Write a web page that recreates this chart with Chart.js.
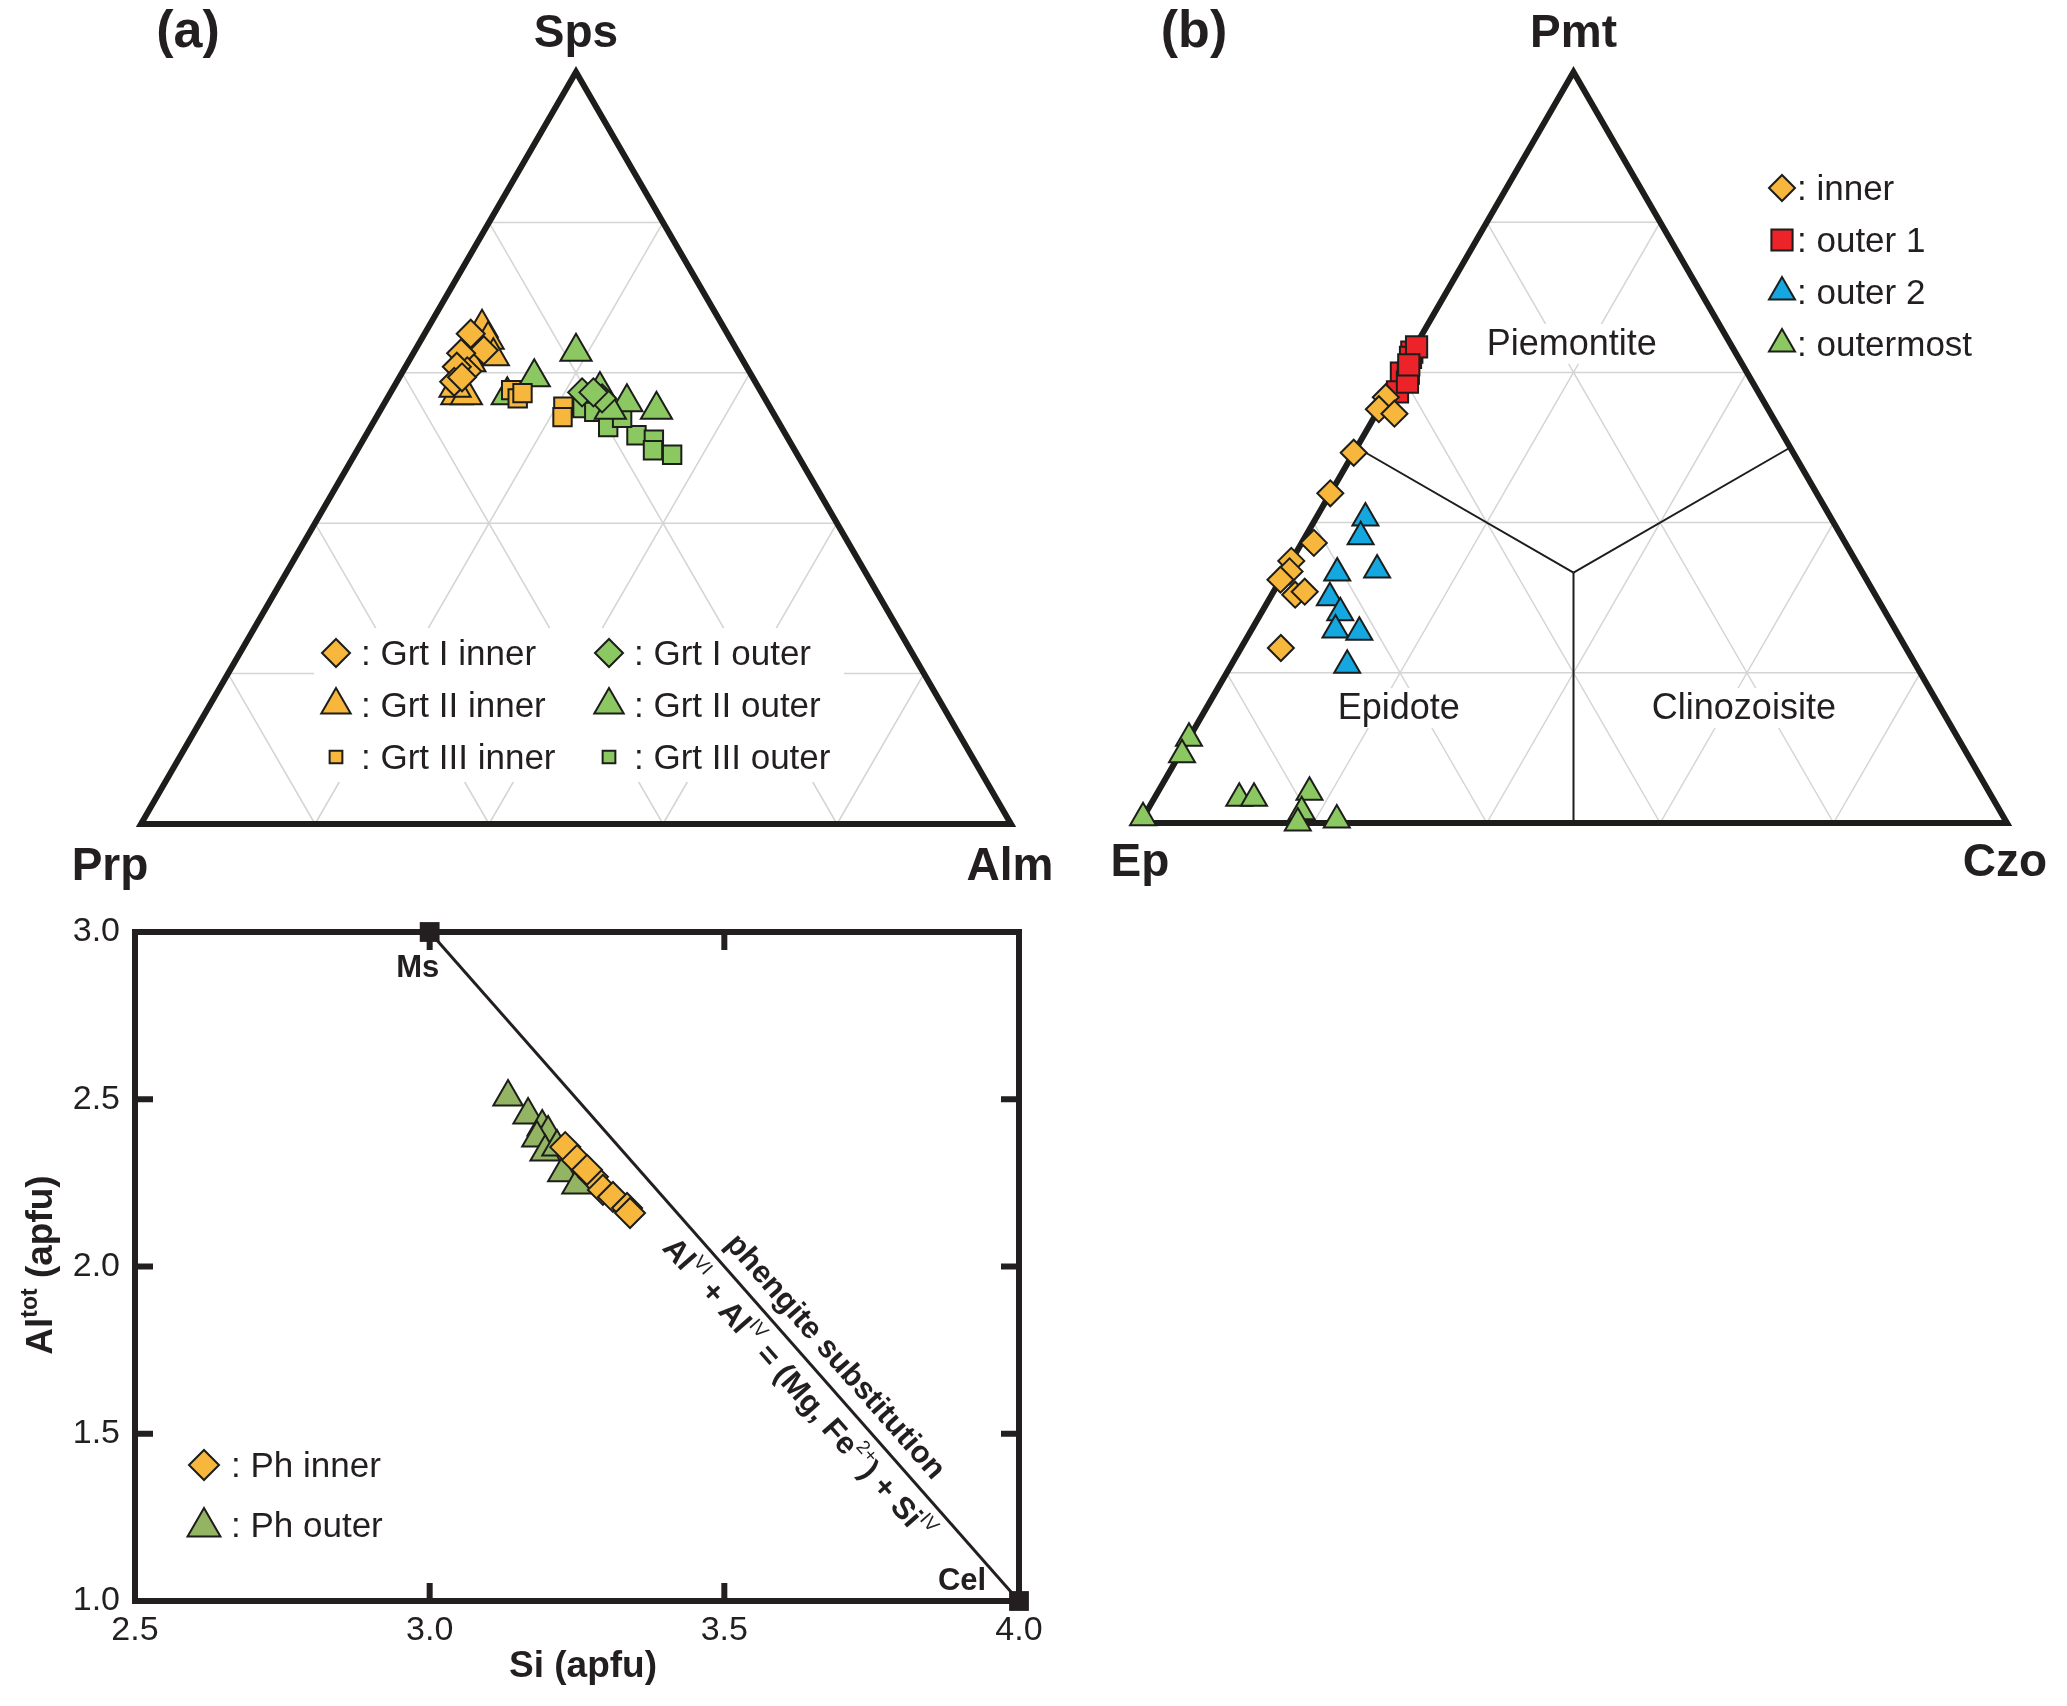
<!DOCTYPE html>
<html>
<head>
<meta charset="utf-8">
<script src="https://cdn.jsdelivr.net/npm/chart.js@4.4.1/dist/chart.umd.min.js"></script>
<style>
  html, body { margin: 0; padding: 0; background: #fff; }
  body { width: 2067px; height: 1706px; position: relative; overflow: hidden; }
  canvas { position: absolute; }
  #chart-a { left: 0; top: 0; width: 1060px; height: 900px; }
  #chart-b { left: 1060px; top: 0; width: 1007px; height: 900px; }
  #chart-c { left: 0; top: 880px; width: 1060px; height: 826px; }
</style>
</head>
<body>
<canvas id="chart-a" width="1060" height="900"></canvas>
<canvas id="chart-b" width="1007" height="900"></canvas>
<canvas id="chart-c" width="1060" height="826"></canvas>
<script>
// (a) garnet compositions, [Prp, Alm, Sps] mol%
const grtIInner = [[29.5, 5.3, 65.2], [29.1, 7.9, 63.0], [31.9, 5.5, 62.6], [32.4, 7.4, 60.2], [33.3, 5.9, 60.8], [34.6, 6.6, 58.8], [33.4, 7.2, 59.4]];
const grtIIInner = [[27.8, 6.2, 66.0], [27.9, 7.7, 64.4], [28.4, 9.4, 62.2], [31.5, 7.1, 61.4], [35.2, 7.8, 57.0], [34.1, 8.9, 57.0], [34.9, 7.1, 58.0]];
const grtIIIInner = [[28.6, 13.7, 57.7], [28.4, 15.0, 56.6], [27.5, 15.2, 57.3], [23.7, 20.8, 55.5], [24.5, 21.4, 54.1]];
const grtIOuter = [[20.6, 22.0, 57.4], [18.7, 24.7, 56.6], [19.3, 23.3, 57.4]];
const grtIIOuter = [[18.6, 18.6, 62.8], [25.1, 15.5, 59.4], [29.4, 13.6, 57.0], [18.4, 23.9, 57.7], [16.1, 27.8, 56.1], [13.2, 31.7, 55.1], [18.5, 26.4, 55.1]];
const grtIIIOuter = [[21.6, 23.1, 55.3], [20.5, 24.7, 54.8], [19.9, 27.3, 52.8], [17.2, 31.1, 51.7], [15.5, 33.4, 51.1], [16.3, 34.0, 49.7], [14.4, 36.5, 49.1], [17.7, 28.3, 54.0]];
const garnetLabels = ["Grt I inner", "Grt II inner", "Grt III inner", "Grt I outer", "Grt II outer", "Grt III outer"];
const garnetApices = ["Prp", "Alm", "Sps"];

// (b) epidote compositions, [Ep, Czo, Pmt] mol%
const epInner = [[43.3, 0, 56.7], [44.9, 0, 55.1], [43.4, 2.1, 54.5], [50.7, 0, 49.3], [56.1, 0, 43.9], [61.3, 1.4, 37.3], [65.1, 0, 34.9], [66.0, 0.5, 33.5], [67.6, 0, 32.4], [66.9, 2.7, 30.4], [65.6, 3.6, 30.8], [72.1, 4.6, 23.3]];
const epOuter1 = [[37.3, 0, 62.7], [37.8, 0.2, 62.0], [39.9, 0.2, 59.9], [39.1, 1.0, 59.9], [41.6, 1.0, 57.4], [39.8, 1.5, 58.7], [36.4, 0.2, 63.4], [38.5, 0.5, 61.0]];
const epOuter2 = [[53.7, 5.7, 40.6], [55.5, 6.4, 38.1], [60.6, 6.1, 33.3], [55.8, 10.5, 33.7], [63.1, 6.9, 30.0], [62.9, 9.1, 28.0], [64.6, 9.7, 25.7], [62.0, 12.6, 25.4], [65.6, 13.4, 21.0]];
const epOutermost = [[99.3, 0, 0.7], [88.7, 0, 11.3], [90.6, 0.3, 9.1], [86.9, 9.8, 3.3], [85.2, 11.5, 3.3], [78.4, 17.5, 4.1], [80.6, 17.9, 1.5], [81.8, 18.2, 0], [77.1, 22.5, 0.4]];
const epidoteLabels = ["inner", "outer 1", "outer 2", "outermost"];
const epidoteApices = ["Ep", "Czo", "Pmt"];
const epidoteFields = ["Piemontite", "Epidote", "Clinozoisite"];

// (c) white mica, Si vs Al(tot) in apfu
const siTicks = [2.5, 3.0, 3.5, 4.0];
const alTicks = [1.0, 1.5, 2.0, 2.5, 3.0];
const phInnerSi = [3.23, 3.25, 3.277, 3.294, 3.311, 3.335, 3.34, 3.267];
const phInnerAl = [2.357, 2.318, 2.268, 2.229, 2.208, 2.175, 2.16, 2.289];
const phOuterSi = [3.133, 3.167, 3.191, 3.201, 3.182, 3.196, 3.226, 3.25, 3.216];
const phOuterAl = [2.507, 2.453, 2.417, 2.399, 2.384, 2.342, 2.28, 2.244, 2.357];
const endMembers = ["Ms", "Cel"];
const endSi = [3.0, 4.0];
const endAl = [3.0, 1.0];
const micaLabels = ["Ph inner", "Ph outer"];

const FONT = "'Liberation Sans', Arial, Helvetica, sans-serif";
const INK = "#231f20";
const EDGE = "#1d1d1b";
const ORANGE = "#f6b73c";
const GREEN = "#8cc862";
const OLIVE = "#93b462";
const BLUE = "#14a7e0";
const RED = "#ec2328";
const GRID = "#d4d4d4";
const SQ3 = Math.sqrt(3) / 2;

function ternaryPoint(t) {
  const s = t[0] + t[1] + t[2];
  const right = t[1] / s;
  const top = t[2] / s;
  return { x: right + top / 2, y: top * SQ3 };
}

function gridLines() {
  const lines = [];
  [0.2, 0.4, 0.6, 0.8].forEach((k) => {
    lines.push([{ x: k / 2, y: k * SQ3 }, { x: 1 - k / 2, y: k * SQ3 }]);
    lines.push([{ x: k, y: 0 }, { x: k + (1 - k) / 2, y: (1 - k) * SQ3 }]);
    lines.push([{ x: 1 - k, y: 0 }, { x: (1 - k) / 2, y: (1 - k) * SQ3 }]);
  });
  return lines;
}

const frame = [{ x: 0, y: 0 }, { x: 1, y: 0 }, { x: 0.5, y: SQ3 }, { x: 0, y: 0 }, { x: 1, y: 0 }];

const lineSet = (data, color, width, order) => ({
  data, showLine: true, pointRadius: 0, borderColor: color, borderWidth: width,
  borderJoinStyle: "miter", order, clip: false,
});
const pointSet = (label, data, style, radius, fill, order) => ({
  label, data, pointStyle: style, pointRadius: radius, backgroundColor: fill,
  borderColor: EDGE, borderWidth: 2, order, clip: false,
});

function text(ctx, str, x, y, size, bold, align = "center", baseline = "alphabetic") {
  ctx.font = `${bold ? "bold " : ""}${size}px ${FONT}`;
  ctx.fillStyle = INK;
  ctx.textAlign = align;
  ctx.textBaseline = baseline;
  ctx.fillText(str, x, y);
}

// parts: [string, size, bold, rise]
function drawRich(ctx, parts, x, y) {
  ctx.fillStyle = INK;
  ctx.textAlign = "left";
  ctx.textBaseline = "middle";
  let w = 0;
  parts.forEach((p) => {
    ctx.font = `${p[2] ? "bold " : ""}${p[1]}px ${FONT}`;
    w += ctx.measureText(p[0]).width;
  });
  let cx = x - w / 2;
  parts.forEach((p) => {
    ctx.font = `${p[2] ? "bold " : ""}${p[1]}px ${FONT}`;
    ctx.fillText(p[0], cx, y - (p[3] || 0));
    cx += ctx.measureText(p[0]).width;
  });
}

function marker(ctx, style, radius, fill, x, y) {
  ctx.save();
  ctx.fillStyle = fill;
  ctx.strokeStyle = EDGE;
  ctx.lineWidth = 2;
  Chart.helpers.drawPoint(ctx, { pointStyle: style, radius, borderWidth: 2, rotation: 0 }, x, y);
  ctx.restore();
}

const ternaryOptions = (padding) => ({
  responsive: false,
  animation: false,
  layout: { padding },
  scales: {
    x: { type: "linear", min: 0, max: 1, display: false },
    y: { type: "linear", min: 0, max: SQ3, display: false },
  },
  plugins: { legend: { display: false }, tooltip: { enabled: false } },
});

// ---------- (a) garnet ----------
const garnetPlugin = {
  id: "garnetDecor",
  afterDatasetsDraw(chart) {
    const { ctx, scales: { x, y } } = chart;
    ctx.save();
    ctx.fillStyle = "#fff";
    ctx.fillRect(314, 628, 530, 154);
    const styles = [["rectRot", 14, ORANGE], ["triangle", 17, ORANGE], ["rect", 9, ORANGE],
      ["rectRot", 14, GREEN], ["triangle", 17, GREEN], ["rect", 9, GREEN]];
    garnetLabels.forEach((lab, i) => {
      const col = Math.floor(i / 3);
      const row = i % 3;
      const mx = col === 0 ? 336 : 609;
      const my = 653 + row * 52;
      marker(ctx, styles[i][0], styles[i][1], styles[i][2], mx, my);
      text(ctx, ": " + lab, mx + 25, my + 2, 35, false, "left", "middle");
    });
    const px = (v) => x.getPixelForValue(v);
    const py = (v) => y.getPixelForValue(v);
    text(ctx, garnetApices[2], px(0.5), 47, 46, true);
    text(ctx, garnetApices[0], px(0) - 31, py(0) + 56, 46, true);
    text(ctx, garnetApices[1], px(1) - 1, py(0) + 56, 46, true);
    text(ctx, "(a)", 188, 47, 52, true);
    ctx.restore();
  },
};

new Chart(document.getElementById("chart-a"), {
  type: "scatter",
  data: {
    datasets: [
      ...gridLines().map((l) => lineSet(l, GRID, 1.5, 30)),
      lineSet(frame, EDGE, 6, 20),
      pointSet(garnetLabels[5], grtIIIOuter.map(ternaryPoint), "rect", 13, GREEN, 8),
      pointSet(garnetLabels[4], grtIIOuter.map(ternaryPoint), "triangle", 18, GREEN, 7),
      pointSet(garnetLabels[3], grtIOuter.map(ternaryPoint), "rectRot", 14, GREEN, 6),
      pointSet(garnetLabels[2], grtIIIInner.map(ternaryPoint), "rect", 13, ORANGE, 5),
      pointSet(garnetLabels[1], grtIIInner.map(ternaryPoint), "triangle", 18, ORANGE, 4),
      pointSet(garnetLabels[0], grtIInner.map(ternaryPoint), "rectRot", 14, ORANGE, 3),
    ],
  },
  options: ternaryOptions({ left: 141, right: 49, top: 72, bottom: 76 }),
  plugins: [garnetPlugin],
});

// ---------- (b) epidote ----------
const epidotePlugin = {
  id: "epidoteDecor",
  afterDatasetsDraw(chart) {
    const { ctx, scales: { x, y } } = chart;
    const px = (v) => x.getPixelForValue(v);
    const py = (v) => y.getPixelForValue(v);
    ctx.save();
    const anchors = [[18.3, 17.9, 63.8], [62.5, 22.2, 15.3], [22.7, 62.0, 15.3]];
    epidoteFields.forEach((f, i) => {
      const p = ternaryPoint(anchors[i]);
      ctx.font = `36px ${FONT}`;
      const w = ctx.measureText(f).width;
      ctx.fillStyle = "#fff";
      ctx.fillRect(px(p.x) - w / 2 - 4, py(p.y) - 20, w + 8, 40);
      text(ctx, f, px(p.x), py(p.y) + 1, 36, false, "center", "middle");
    });
    const styles = [["rectRot", 13, ORANGE], ["rect", 15, RED], ["triangle", 15, BLUE], ["triangle", 15, GREEN]];
    epidoteLabels.forEach((lab, i) => {
      const my = 188 + i * 52;
      marker(ctx, styles[i][0], styles[i][1], styles[i][2], 722, my);
      text(ctx, ": " + lab, 737, my + 2, 35, false, "left", "middle");
    });
    text(ctx, epidoteApices[2], px(0.5), 47, 46, true);
    text(ctx, epidoteApices[0], px(0), py(0) + 53, 46, true);
    text(ctx, epidoteApices[1], px(1) - 2, py(0) + 53, 46, true);
    text(ctx, "(b)", 134, 47, 52, true);
    ctx.restore();
  },
};

const centroid = ternaryPoint([1, 1, 1]);
new Chart(document.getElementById("chart-b"), {
  type: "scatter",
  data: {
    datasets: [
      ...gridLines().map((l) => lineSet(l, GRID, 1.5, 30)),
      lineSet([centroid, ternaryPoint([50, 0, 50])], EDGE, 2, 25),
      lineSet([centroid, ternaryPoint([0, 50, 50])], EDGE, 2, 25),
      lineSet([centroid, ternaryPoint([50, 50, 0])], EDGE, 2, 25),
      lineSet(frame, EDGE, 6, 20),
      pointSet(epidoteLabels[3], epOutermost.map(ternaryPoint), "triangle", 15, GREEN, 6),
      pointSet(epidoteLabels[2], epOuter2.map(ternaryPoint), "triangle", 15, BLUE, 5),
      pointSet(epidoteLabels[1], epOuter1.map(ternaryPoint), "rect", 15, RED, 4),
      pointSet(epidoteLabels[0], epInner.map(ternaryPoint), "rectRot", 13, ORANGE, 3),
    ],
  },
  options: ternaryOptions({ left: 80, right: 60, top: 72, bottom: 77 }),
  plugins: [epidotePlugin],
});

// ---------- (c) white mica ----------
const micaPlugin = {
  id: "micaDecor",
  beforeDatasetsDraw(chart) {
    const { ctx, chartArea: a, scales: { x, y } } = chart;
    ctx.save();
    ctx.strokeStyle = INK;
    ctx.lineWidth = 6;
    ctx.strokeRect(a.left, a.top, a.right - a.left, a.bottom - a.top);
    const tick = 18;
    ctx.beginPath();
    alTicks.slice(1, -1).forEach((v) => {
      const p = y.getPixelForValue(v);
      ctx.moveTo(a.left, p); ctx.lineTo(a.left + tick, p);
      ctx.moveTo(a.right, p); ctx.lineTo(a.right - tick, p);
    });
    siTicks.slice(1, -1).forEach((v) => {
      const p = x.getPixelForValue(v);
      ctx.moveTo(p, a.bottom); ctx.lineTo(p, a.bottom - tick);
      ctx.moveTo(p, a.top); ctx.lineTo(p, a.top + tick);
    });
    ctx.stroke();
    ctx.restore();
  },
  afterDatasetsDraw(chart) {
    const { ctx, scales: { x, y } } = chart;
    ctx.save();
    const msX = x.getPixelForValue(endSi[0]), msY = y.getPixelForValue(endAl[0]);
    const celX = x.getPixelForValue(endSi[1]), celY = y.getPixelForValue(endAl[1]);
    text(ctx, endMembers[0], msX - 12, msY + 45, 31, true);
    text(ctx, endMembers[1], celX - 57, celY - 11, 31, true);

    const ang = Math.atan2(celY - msY, celX - msX);
    const f = 0.658;
    ctx.translate(msX + (celX - msX) * f, msY + (celY - msY) * f);
    ctx.rotate(ang);
    drawRich(ctx, [["phengite substitution", 31, true]], 0, -23);
    drawRich(ctx, [
      ["Al", 31, true], ["VI", 19, false, 11], [" + Al", 31, true], ["IV", 19, false, 11],
      [" = (Mg, Fe", 31, true], ["2+", 19, false, 11], [") + Si", 31, true], ["IV", 19, false, 11],
    ], 0, 27);
    ctx.restore();

    ctx.save();
    text(ctx, "(c)", 185, 990, 52, true);
    marker(ctx, "rectRot", 15, ORANGE, 204, 585);
    marker(ctx, "triangle", 19, OLIVE, 204, 647);
    text(ctx, ": " + micaLabels[0], 231, 587, 35, false, "left", "middle");
    text(ctx, ": " + micaLabels[1], 231, 647, 35, false, "left", "middle");
    ctx.translate(42, 385);
    ctx.rotate(-Math.PI / 2);
    drawRich(ctx, [["Al", 37, true], ["tot", 23, true, 11], [" (apfu)", 37, true]], 0, 0);
    ctx.restore();
    ctx.save();
    drawRich(ctx, [["Si (apfu)", 37, true]], 583, 787);
    ctx.restore();
  },
};

const tickFont = { family: FONT, size: 34 };
new Chart(document.getElementById("chart-c"), {
  type: "scatter",
  data: {
    datasets: [
      lineSet(endSi.map((v, i) => ({ x: v, y: endAl[i] })), INK, 3, 10),
      { ...pointSet("end members", endSi.map((v, i) => ({ x: v, y: endAl[i] })), "rect", 14, INK, 0), borderWidth: 0 },
      pointSet(micaLabels[1], phOuterSi.map((v, i) => ({ x: v, y: phOuterAl[i] })), "triangle", 17, OLIVE, 3),
      pointSet(micaLabels[0], phInnerSi.map((v, i) => ({ x: v, y: phInnerAl[i] })), "rectRot", 15, ORANGE, 2),
    ],
  },
  options: {
    responsive: false,
    animation: false,
    layout: { padding: { top: 52, right: 41, left: 0, bottom: 0 } },
    scales: {
      x: {
        type: "linear", min: siTicks[0], max: siTicks[siTicks.length - 1],
        afterBuildTicks: (s) => { s.ticks = siTicks.map((v) => ({ value: v })); },
        afterFit: (s) => { s.height = 105; },
        grid: { display: false, drawTicks: false },
        border: { display: false },
        ticks: { font: tickFont, color: INK, padding: 9, maxRotation: 0, autoSkip: false, callback: (v) => Number(v).toFixed(1) },
      },
      y: {
        type: "linear", min: alTicks[0], max: alTicks[alTicks.length - 1],
        afterBuildTicks: (s) => { s.ticks = alTicks.map((v) => ({ value: v })); },
        afterFit: (s) => { s.width = 135; },
        grid: { display: false, drawTicks: false },
        border: { display: false },
        ticks: { font: tickFont, color: INK, padding: 15, autoSkip: false, callback: (v) => Number(v).toFixed(1) },
      },
    },
    plugins: { legend: { display: false }, tooltip: { enabled: false } },
  },
  plugins: [micaPlugin],
});
</script>
</body>
</html>
